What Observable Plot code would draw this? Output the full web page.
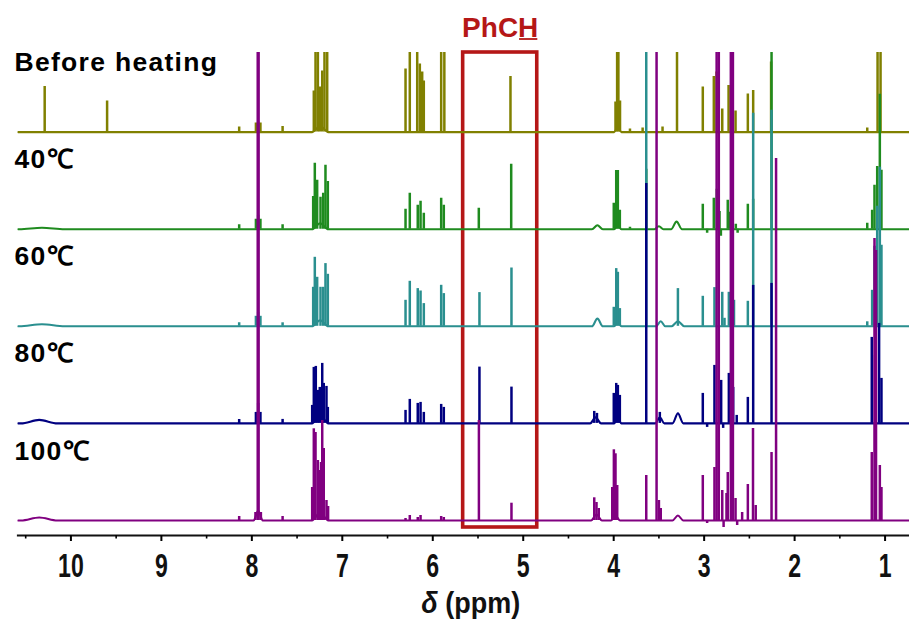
<!DOCTYPE html>
<html><head><meta charset="utf-8">
<script src="https://cdn.jsdelivr.net/npm/d3@7"></script>
<script src="https://cdn.jsdelivr.net/npm/@observablehq/plot@0.6"></script>
<style>
body{margin:0;background:#fff;}
#chart svg{display:block;}
</style></head><body><div id="chart"></div>
<script>
// ---- data ----
const samples = ["Before heating", "40℃", "60℃", "80℃", "100℃"];
const colors = ["#808000", "#1f8b1f", "#2a8f8f", "#000080", "#800080"];
const majorTicks = [10, 9, 8, 7, 6, 5, 4, 3, 2, 1];
const minorTicks = [10.5, 9.5, 8.5, 7.5, 6.5, 5.5, 4.5, 3.5, 2.5, 1.5];
const xDomain = [10.585, 0.73];
const highlight = [5.664, 4.845];
const highlightLabel = "PhCH";
const axisTitle = "δ (ppm)";

// sharp peaks: [ppm, height]
const peaksBefore = [
  [10.29,45.5],[9.60,31],[8.14,5],[7.955,9],[7.93,10],[7.905,9],[7.66,5.5],
  [7.315,41],[7.296,95],[7.27,95],[7.248,45],[7.222,61],[7.197,95],[7.167,95],
  [6.301,63],[6.254,95],[6.172,95],[6.143,68],[6.117,60],[6.099,51],[5.907,95],[5.872,95],
  [5.141,55.5],
  [3.98,30],[3.962,95],[3.948,95],[3.93,31],[3.82,3],[3.68,4],[3.46,5],
  [3.30,95],[3.015,45],[2.893,55.5],[2.863,60],[2.80,23],[2.73,46.5],[2.69,50],[2.653,21],
  [2.517,38],[2.458,41.5],[2.26,70],[1.197,4],[1.083,95],[1.05,95]
];
const peaks40 = [
  [8.14,4.5],[7.955,10],[7.93,14],[7.905,10],[7.66,4.5],
  [7.322,32.6],[7.304,66],[7.278,49],[7.241,32],[7.211,36],[7.186,64],[7.16,47.6],
  [6.301,20],[6.254,36],[6.166,24],[6.135,28],[6.099,16],[5.907,31],[5.878,24],
  [5.491,21],[5.133,65],
  [3.999,26],[3.972,58.6],[3.954,58.6],[3.932,19],[3.82,2],[3.64,60],
  [3.015,25],[2.967,-4],[2.893,31],[2.86,40],[2.83,17.6],[2.815,-7],[2.739,29],[2.72,17],
  [2.69,30],[2.65,5],[2.63,-4],[2.517,25],[2.458,30],[2.255,200],
  [1.197,6],[1.143,19],[1.117,44],[1.087,62.6],[1.058,135],[1.04,59]
];
const peaks60 = [
  [8.14,3.5],[7.955,10],[7.93,14],[7.905,10],[7.66,3.5],
  [7.322,39],[7.304,69],[7.278,49],[7.241,39],[7.211,39],[7.186,62.7],[7.16,52],
  [6.301,26],[6.254,45],[6.166,37.7],[6.135,35.3],[6.099,22.7],[5.907,41],[5.878,32.7],
  [5.484,33.7],[5.13,58.3],
  [3.999,19],[3.972,57.7],[3.954,54],[3.932,17.7],[3.64,320],
  [3.29,37.7],[3.015,30],[2.886,38.7],[2.80,34],[2.775,8],[2.727,34],[2.67,26],
  [2.517,25],[2.458,213],[2.255,216],
  [1.197,4.5],[1.143,36],[1.117,80],[1.087,120],[1.058,159],[1.04,81]
];
const peaks80 = [
  [8.14,4],[7.955,11],[7.93,20],[7.905,11],[7.66,4],
  [7.333,18],[7.315,56],[7.293,57],[7.27,33],[7.249,36],[7.222,60],[7.205,40],[7.175,37],[7.16,16],
  [6.301,13],[6.254,24],[6.166,20],[6.135,21],[6.099,11],[5.907,19],[5.878,16],
  [5.484,56.3],[5.13,36.3],
  [4.215,12],[4.185,10],
  [3.999,30],[3.972,40],[3.954,38],[3.932,28],[3.64,240],[3.49,11],
  [3.015,30],[2.967,-4],[2.886,58],[2.812,43],[2.79,-5],[2.727,50],[2.679,36],[2.64,8],
  [2.517,26],[2.458,138],[2.255,140],
  [1.147,86],[1.11,68],[1.066,100],[1.04,45]
];
const peaks100 = [
  [8.14,4],[7.96,8],[7.935,520],[7.925,520],[7.90,8],[7.66,4],
  [7.333,33],[7.315,91.7],[7.296,88],[7.27,60],[7.249,50],[7.235,58],[7.222,100],[7.205,72],[7.175,20],[7.157,14],
  [6.301,2],[6.254,5],[6.166,3],[6.135,5],[5.907,4],[5.878,3],
  [5.49,100],[5.13,17.3],
  [4.215,22.7],[4.19,18],[4.165,12],
  [4.016,33],[3.998,70.7],[3.98,66.7],[3.961,35],
  [3.64,45],[3.526,520],[3.50,20],[3.48,12],
  [3.015,45],[2.967,-3],[2.886,53],[2.862,520],[2.838,520],[2.80,30],[2.785,-7],[2.753,27],
  [2.739,48],[2.705,520],[2.682,520],[2.653,22],[2.635,-5],[2.58,8],[2.517,36],[2.46,92],[2.43,15],
  [2.255,68],[2.205,362],
  [1.147,68],[1.117,282],[1.10,270],[1.058,55],[1.04,33]
];
// broad features: [ppm, height, half width]
const humpsBefore = [[7.245,6,0.09],[3.955,5,0.04]];
const humps40 = [[10.32,1.5,0.25],[7.245,6,0.09],[4.18,4,0.06],[3.955,4,0.04],[3.50,3,0.05],[3.305,7.6,0.06]];
const humps60 = [[10.32,2,0.25],[7.245,6,0.09],[4.18,7.7,0.06],[3.955,4,0.04],[3.48,5,0.05],[3.29,5,0.07]];
const humps80 = [[10.35,3.5,0.2],[7.245,8,0.09],[4.2,6,0.06],[3.955,5,0.04],[3.49,6,0.05],[3.29,10,0.06]];
const humps100 = [[10.35,3,0.2],[7.93,10,0.05],[7.245,8,0.09],[4.19,6,0.06],[3.98,5,0.05],[3.29,5,0.06]];

const peaks = [peaksBefore, peaks40, peaks60, peaks80, peaks100];
const humps = [humpsBefore, humps40, humps60, humps80, humps100];

// ---- build tables ----
const spacing = 97.1;
const offset = i => (samples.length - 1 - i) * spacing;
const rules = [];
peaks.forEach((list, i) => list.forEach(([ppm, h]) =>
  rules.push({sample: samples[i], ppm, y1: offset(i), y2: offset(i) + h})));
const traces = [];
humps.forEach((list, i) => {
  const pts = [[xDomain[0], 0], [xDomain[1], 0]];
  list.forEach(([c, h, w]) => pts.push([c + w, 0], [c, h], [c - w, 0]));
  pts.sort((a, b) => a[0] - b[0]);
  pts.forEach(([ppm, h]) => traces.push({sample: samples[i], ppm, y: offset(i) + h}));
});
const labels = samples.map((s, i) => ({text: s, y: offset(i) + 61}));

const chart = Plot.plot({
  width: 909,
  height: 620,
  marginTop: 52,
  marginBottom: 85,
  marginLeft: 17.5,
  marginRight: 0,
  x: {domain: xDomain, axis: null},
  y: {domain: [-15, 468], axis: null},
  color: {domain: samples, range: colors},
  style: {fontFamily: "'Liberation Sans', Arial, sans-serif", background: "#fff"},
  marks: [
    Plot.rect([highlight], {x1: d => d[0], x2: d => d[1], fill: "none", stroke: "#b51717", strokeWidth: 3.6, insetBottom: 8}),
    Plot.text([highlightLabel], {x: (highlight[0] + highlight[1]) / 2, frameAnchor: "top", dy: -16, lineAnchor: "bottom",
      text: d => d, fill: "#b51717", fontSize: 28, fontWeight: "bold"}),
    ...samples.map(s => Plot.line(traces.filter(d => d.sample === s), {x: "ppm", y: "y", stroke: "sample", strokeWidth: 2.1, curve: "monotone-x", clip: true})),
    ...samples.map(s => Plot.ruleX(rules.filter(d => d.sample === s), {x: "ppm", y1: "y1", y2: "y2", stroke: "sample", strokeWidth: 2.5, clip: true})),
    Plot.text(labels, {frameAnchor: "left", dx: -3.5, y: "y", text: "text", textAnchor: "start", lineAnchor: "bottom",
      fontSize: 26.5, fontWeight: "bold", fill: "#000"}),
    Plot.frame({anchor: "bottom", stroke: "#111", strokeWidth: 2.2}),
    Plot.axisX({ticks: majorTicks, tickSize: 6, tickPadding: 12, strokeWidth: 2, tickFormat: d => String(d),
      fontSize: 33, fontWeight: "bold", fill: "#111", label: null}),
    Plot.axisX({ticks: minorTicks, tickSize: 3.5, strokeWidth: 1.6, tickFormat: () => "", label: null}),
    Plot.text([axisTitle], {frameAnchor: "bottom", dy: 77, dx: 7, lineAnchor: "bottom", text: d => d,
      fontSize: 30, fontWeight: "bold", fill: "#111"})
  ]
});
document.getElementById("chart").appendChild(chart);

const svg = d3.select(chart);
const tickStrings = new Set(majorTicks.map(String));
const sampleSet = new Set(samples);
const scaleText = (el, sc) => {
  const tr = el.getAttribute("transform");
  if (tr) el.setAttribute("transform", tr + " " + sc);
  else {
    const x = +(el.getAttribute("x") || 0), y = +(el.getAttribute("y") || 0);
    el.removeAttribute("x"); el.removeAttribute("y");
    el.setAttribute("transform", `translate(${x},${y}) ${sc}`);
  }
};
const toRoot = (el, x, y) => {
  const p = chart.createSVGPoint(); p.x = x; p.y = y;
  return p.matrixTransform(el.getScreenCTM()).matrixTransform(chart.getScreenCTM().inverse());
};
const underlines = [];
svg.selectAll("text").each(function() {
  const s = this.textContent;
  const g = this.closest("g");
  const lab = g ? (g.getAttribute("aria-label") || "") : "";
  if (lab.includes("tick label") && tickStrings.has(s)) {
    scaleText(this, "scale(0.7,1)");
  } else if (s === axisTitle) {
    scaleText(this, "scale(0.9,1)");
    const t = d3.select(this); t.text("");
    t.append("tspan").attr("font-style", "italic").text(s.slice(0, 1));
    t.append("tspan").text(s.slice(1));
  } else if (sampleSet.has(s)) {
    this.style.letterSpacing = "1.3px";
  } else if (s === highlightLabel) {
    // underline the final letter, just below the text baseline (root coordinates)
    const n = this.getNumberOfChars();
    const start = this.getStartPositionOfChar(n - 1);
    const end = this.getEndPositionOfChar(n - 1);
    underlines.push([toRoot(this, start.x, start.y + 2.5), toRoot(this, end.x, end.y + 2.5)]);
  }
});
underlines.forEach(([a, b]) => svg.append("line")
  .attr("x1", a.x + 1).attr("x2", b.x - 1).attr("y1", a.y).attr("y2", b.y)
  .attr("stroke", "#b51717").attr("stroke-width", 1.8));
</script></body></html>
